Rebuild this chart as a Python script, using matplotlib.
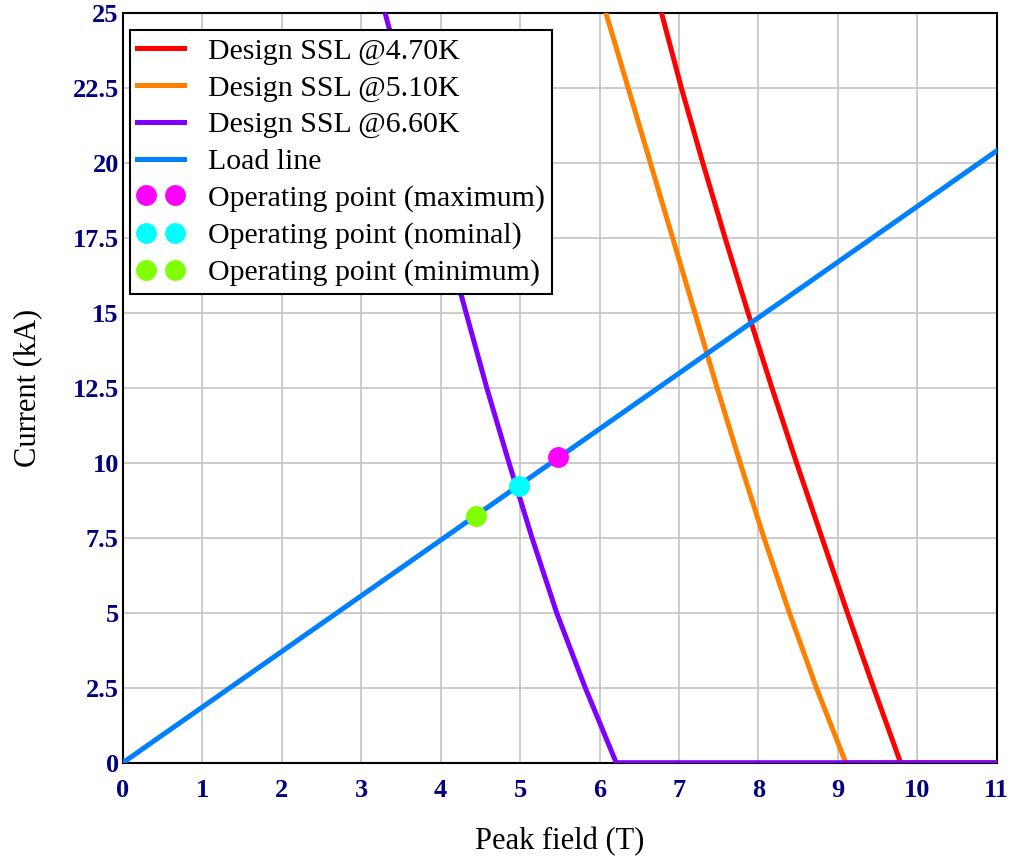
import matplotlib
matplotlib.use("Agg")
import matplotlib.pyplot as plt
from matplotlib.legend_handler import HandlerLine2D

# Design short-sample-limit curves (peak field T, current kA)
ssl_470_b = [6.78, 7.03, 7.30, 7.58, 7.87, 8.17, 8.48, 8.80, 9.12, 9.45, 9.79, 11.0]
ssl_470_i = [25.0, 22.5, 20.0, 17.5, 15.0, 12.5, 10.0, 7.5, 5.0, 2.5, 0.0, 0.0]

ssl_510_b = [6.08, 6.36, 6.64, 6.92, 7.20, 7.48, 7.77, 8.07, 8.39, 8.73, 9.10, 11.0]
ssl_510_i = [25.0, 22.5, 20.0, 17.5, 15.0, 12.5, 10.0, 7.5, 5.0, 2.5, 0.0, 0.0]

ssl_660_b = [3.30, 3.55, 3.80, 4.06, 4.32, 4.58, 4.86, 5.15, 5.46, 5.82, 6.21, 11.0]
ssl_660_i = [25.0, 22.5, 20.0, 17.5, 15.0, 12.5, 10.0, 7.5, 5.0, 2.5, 0.0, 0.0]

# Load line
load_b = [0.0, 11.0]
load_i = [0.0, 20.4]

# Operating points
op_max = (5.48, 10.18)
op_nom = (4.98, 9.23)
op_min = (4.45, 8.23)

x_ticks = list(range(0, 12))
y_ticks = [0, 2.5, 5, 7.5, 10, 12.5, 15, 17.5, 20, 22.5, 25]
y_labels = ["0", "2.5", "5", "7.5", "10", "12.5", "15", "17.5", "20", "22.5", "25"]

plt.rcParams['font.family'] = ['Liberation Serif', 'DejaVu Serif']

fig = plt.figure(figsize=(10.16, 8.56), dpi=100)
ax = fig.add_axes([0.121, 0.109, 0.860, 0.876])

lw = 3.6
l1, = ax.plot(ssl_470_b, ssl_470_i, color='#ff0000', lw=lw, label='Design SSL @4.70K', zorder=3)
l2, = ax.plot(ssl_510_b, ssl_510_i, color='#ff8000', lw=lw, label='Design SSL @5.10K', zorder=3)
l3, = ax.plot(ssl_660_b, ssl_660_i, color='#8000ff', lw=lw, label='Design SSL @6.60K', zorder=4)
l4, = ax.plot(load_b, load_i, color='#0080ff', lw=lw, label='Load line', zorder=5)
ax.plot([op_max[0]], [op_max[1]], 'o', color='#ff00ff', ms=14, ls='none',
        label='Operating point (maximum)', zorder=6)
ax.plot([op_nom[0]], [op_nom[1]], 'o', color='#00ffff', ms=14, ls='none',
        label='Operating point (nominal)', zorder=6)
ax.plot([op_min[0]], [op_min[1]], 'o', color='#80ff00', ms=14, ls='none',
        label='Operating point (minimum)', zorder=6)

ax.set_xlim(0, 11)
ax.set_ylim(0, 25)
ax.set_xticks(x_ticks)
ax.set_xticklabels([str(t) for t in x_ticks])
ax.set_yticks(y_ticks)
ax.set_yticklabels(y_labels)
ax.tick_params(length=0, labelsize=19, labelcolor='#000080')
ax.tick_params(axis='x', pad=12)
ax.tick_params(axis='y', pad=3)
for lab in ax.get_xticklabels() + ax.get_yticklabels():
    lab.set_fontweight('bold')

ax.grid(True, color='#c8c8c8', lw=1.3)
ax.set_axisbelow(True)
for sp in ax.spines.values():
    sp.set_color('black')
    sp.set_linewidth(1.5)

ax.set_xlabel('Peak field (T)', fontsize=22, labelpad=18)
ax.set_ylabel('Current (kA)', fontsize=22, labelpad=22)

line_handler = HandlerLine2D(marker_pad=0)
leg = ax.legend(loc='upper left', bbox_to_anchor=(0.008, 0.977), borderaxespad=0,
                numpoints=2, fontsize=21.5, fancybox=False,
                framealpha=1, edgecolor='black', handlelength=1.55,
                labelspacing=0.33, handletextpad=0.8, borderpad=0.25,
                handler_map={l1: line_handler, l2: line_handler,
                             l3: line_handler, l4: line_handler})
leg.get_frame().set_linewidth(1.5)

fig.savefig('out.png', dpi=100)
